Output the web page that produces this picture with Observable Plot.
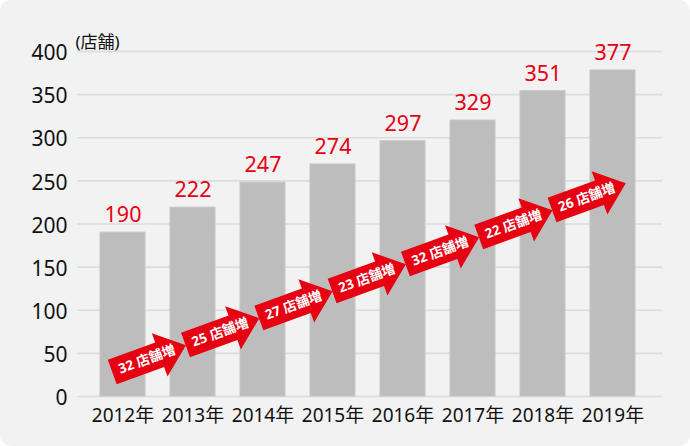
<!DOCTYPE html>
<html>
<head>
<meta charset="utf-8">
<script src="https://cdn.jsdelivr.net/npm/d3@7"></script>
<script src="https://cdn.jsdelivr.net/npm/@observablehq/plot@0.6"></script>
<style>
  html, body { margin: 0; padding: 0; background: #ffffff; }
  #card { width: 690px; height: 446px; background: #f2f2f2; border-radius: 11px; overflow: hidden; }
  #card svg { display: block; }
</style>
</head>
<body>
<div id="card"></div>
<script>
// ---- data ----
const years = ["2012年", "2013年", "2014年", "2015年", "2016年", "2017年", "2018年", "2019年"];
const barValues = [190, 219, 248, 269, 296, 320, 354, 378];   // bar heights as drawn
const valueLabels = [190, 222, 247, 274, 297, 329, 351, 377]; // red labels
const increases = [32, 25, 27, 23, 32, 22, 26];               // 店舗増 arrows
const yTicks = [0, 50, 100, 150, 200, 250, 300, 350, 400];
const unitLabel = "(店舗)";

const bars = years.map((year, i) => ({year, value: barValues[i], label: String(valueLabels[i])}));
const arrows = increases.map((n, i) => ({from: years[i], text: `${n} 店舗増`, level: 43 + 31.3 * i}));

// arrow symbol, rotated -20°
const ANG = -20 * Math.PI / 180;
const arrowPts = [[-37, -13], [13.5, -13], [13.5, -23], [41.5, 0], [13.5, 23], [13.5, 13], [-37, 13]];
const arrowSymbol = {
  draw(ctx) {
    const c = Math.cos(ANG), s = Math.sin(ANG);
    arrowPts.forEach(([u, v], k) => {
      const x = u * c - v * s, y = u * s + v * c;
      if (k === 0) ctx.moveTo(x, y); else ctx.lineTo(x, y);
    });
    ctx.closePath();
  }
};

const RED = "#e60012";
const FONT = "'Noto Sans', 'Noto Sans CJK JP', sans-serif";

const arrowMarks = arrows.flatMap((a, i) => {
  const dx = 24 + 3.3 * i;
  return [
    Plot.dot([a], {x: "from", y: "level", dx, symbol: arrowSymbol, r: 10, fill: RED, stroke: "none"}),
    Plot.text([a], {x: "from", y: "level", dx, text: "text", rotate: -20, fill: "#ffffff",
      fontSize: 13.5, fontWeight: "bold", textAnchor: "middle"})
  ];
});

const chart = Plot.plot({
  width: 690,
  height: 446,
  marginTop: 51,
  marginBottom: 50,
  marginLeft: 77,
  marginRight: 28,
  style: {background: "transparent", fontFamily: FONT, color: "#111111", overflow: "visible"},
  x: {type: "band", domain: years, paddingInner: 0.36, paddingOuter: 0.31, align: 0.45},
  y: {domain: [0, 400]},
  marks: [
    Plot.ruleY(yTicks, {stroke: "#dcdcdc", strokeWidth: 1.6}),
    Plot.barY(bars, {x: "year", y: "value", fill: "#bdbdbd", stroke: "#c6c6c6", strokeWidth: 1}),
    Plot.text(bars, {x: "year", y: "value", text: "label", dy: -17.5, fill: RED, fontSize: 21.5, textAnchor: "middle"}),
    ...arrowMarks,
    Plot.axisY(yTicks, {tickSize: 0, tickPadding: 10, fontSize: 21, label: null, dy: 2}),
    Plot.axisX({tickSize: 0, tickPadding: 12, fontSize: 19, label: null}),
    Plot.text([unitLabel], {text: d => d, frameAnchor: "top-left", textAnchor: "start", dx: -2, dy: -16, fontSize: 17})
  ]
});

document.getElementById("card").appendChild(chart);
</script>
</body>
</html>
